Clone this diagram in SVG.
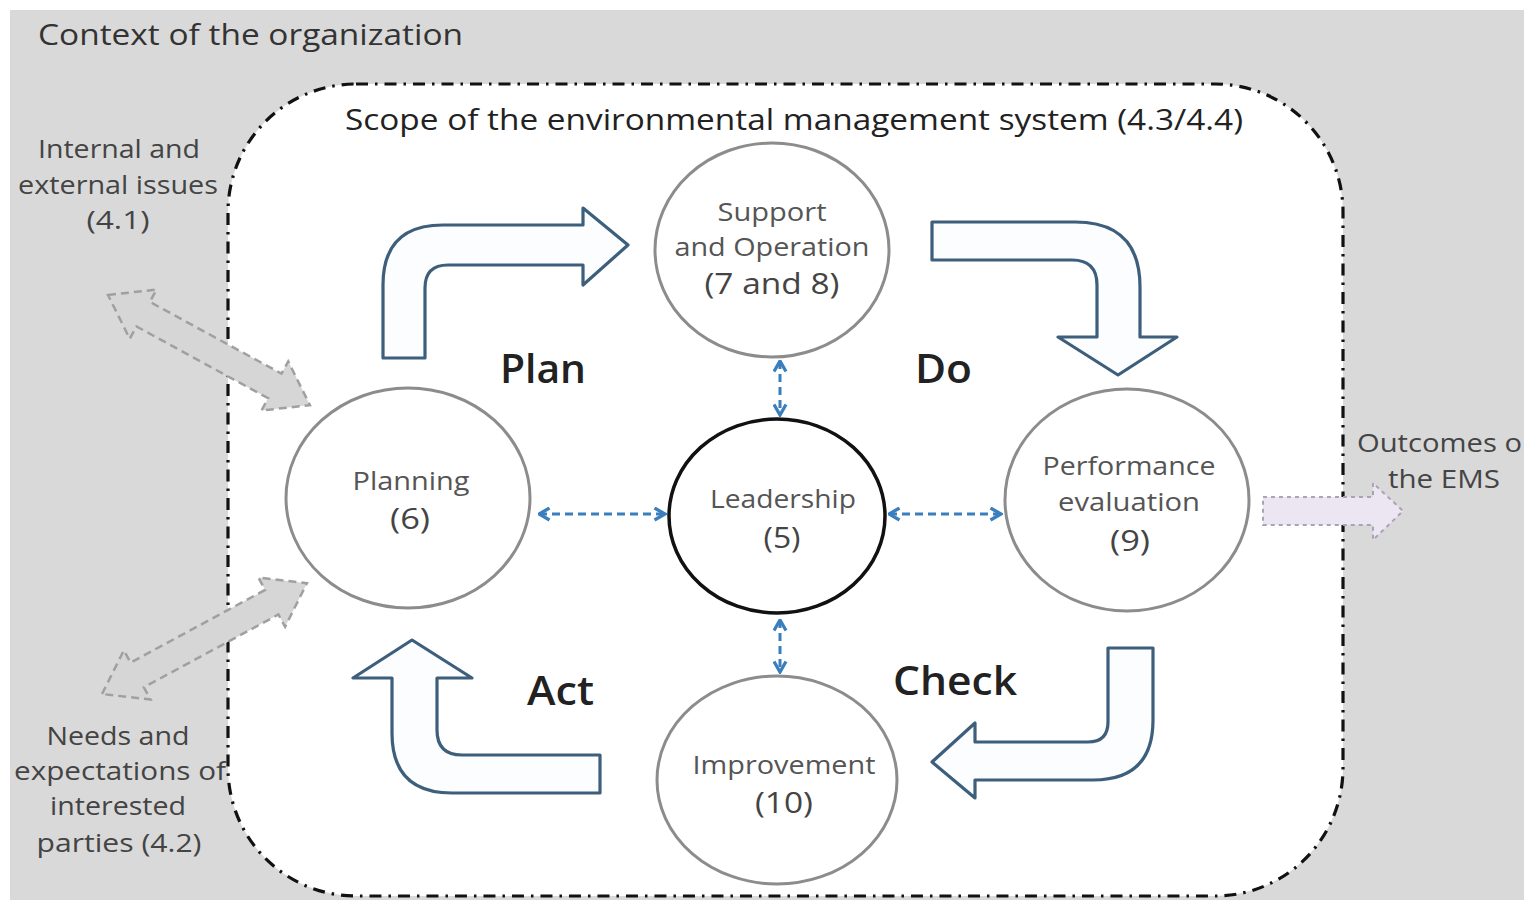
<svg xmlns="http://www.w3.org/2000/svg" width="1527" height="912" viewBox="0 0 1527 912">
<defs>
<style>
text{font-family:"Open Sans","Noto Sans",sans-serif;font-weight:500;}
.title{font-size:29px;fill:#333;}
.side{font-size:25px;fill:#444;text-anchor:middle;}
.node{fill:#fff;stroke:#8c8c8c;stroke-width:3;}
.lead{fill:#fff;stroke:#111;stroke-width:3.5;}
.nt{font-size:26px;fill:#555;text-anchor:middle;}
.nn{font-size:30px;fill:#444;text-anchor:middle;}
.pdca{font-size:39px;fill:#222;font-weight:600;}
.block{fill:#fbfdff;stroke:#3d5f7c;stroke-width:3.2;stroke-linejoin:round;}
.gray{fill:#d6d6d6;stroke:#a0a0a0;stroke-width:2.5;stroke-dasharray:8 5;}
.link{fill:none;stroke:#3a7fbd;stroke-width:3;stroke-dasharray:8 5;marker-start:url(#chev);marker-end:url(#chev);}
</style>
<marker id="chev" viewBox="0 0 10 10" refX="9" refY="5" markerWidth="5" markerHeight="5" orient="auto-start-reverse" markerUnits="strokeWidth">
<path d="M2,1 L9,5 L2,9" fill="none" stroke="#3a7fbd" stroke-width="2.2"/>
</marker>
</defs>
<rect x="0" y="0" width="1527" height="912" fill="#fff"/>
<rect x="10" y="10" width="1514" height="890" fill="#d9d9d9"/>
<g id="scope">
<rect x="228" y="84" width="1115" height="812" rx="128" ry="128" fill="#fff" stroke="#111" stroke-width="3.2" stroke-dasharray="12 7 2.5 7"/>
</g>
<text class="title" x="38" y="45" textLength="425" lengthAdjust="spacingAndGlyphs">Context of the organization</text>
<text class="title" x="345" y="130" style="font-size:30px;fill:#222" textLength="898" lengthAdjust="spacingAndGlyphs">Scope of the environmental management system (4.3/4.4)</text>
<g id="issues">
<text class="side" x="119" y="158" textLength="162" lengthAdjust="spacingAndGlyphs">Internal and</text>
<text class="side" x="118" y="194" textLength="200" lengthAdjust="spacingAndGlyphs">external issues</text>
<text class="side" x="118" y="229" textLength="63" lengthAdjust="spacingAndGlyphs">(4.1)</text>
</g>
<g id="needs">
<text class="side" x="118" y="745" textLength="143" lengthAdjust="spacingAndGlyphs">Needs and</text>
<text class="side" x="120" y="780" textLength="212" lengthAdjust="spacingAndGlyphs">expectations of</text>
<text class="side" x="118" y="815" textLength="136" lengthAdjust="spacingAndGlyphs">interested</text>
<text class="side" x="119" y="852" textLength="165" lengthAdjust="spacingAndGlyphs">parties (4.2)</text>
</g>
<g id="outcomes">
<text class="side" x="1357" y="452" style="text-anchor:start" textLength="165" lengthAdjust="spacingAndGlyphs">Outcomes o</text>
<text class="side" x="1444" y="488" textLength="112" lengthAdjust="spacingAndGlyphs">the EMS</text>
</g>
<g id="connectors">
<path class="gray" transform="translate(108,295) rotate(28.6)" d="M0,0 L40,-28 L40,-14 L190,-14 L190,-28 L230,0 L190,28 L190,14 L40,14 L40,28 Z"/>
<path class="gray" transform="translate(102,694) rotate(-28.4)" d="M0,0 L40,-28 L40,-14 L193,-14 L193,-28 L233,0 L193,28 L193,14 L40,14 L40,28 Z"/>
<path d="M1263,497 L1373,497 L1373,483 L1403,511 L1373,540 L1373,525 L1263,525 Z" fill="#ebe6f2" stroke="#a9a3b5" stroke-width="2" stroke-dasharray="4 4"/>
<path class="block" d="M383,358 L383,285 Q383,225 443,225 L583,225 L583,208 L628,245 L583,285 L583,265 L448,265 Q425,265 425,288 L425,358 Z"/>
<path class="block" d="M932,222 L1075,222 Q1140,222 1140,287 L1140,337 L1177,337 L1118,375 L1058,337 L1097,337 L1097,285 Q1097,260 1072,260 L932,260 Z"/>
<path class="block" d="M1108,648 L1153,648 L1153,720 Q1153,780 1093,780 L975,780 L975,798 L932,762 L975,723 L975,742 L1088,742 Q1108,742 1108,722 Z"/>
<path class="block" d="M600,755 L462,755 Q437,755 437,730 L437,678 L472,678 L412,640 L353,678 L392,678 L392,733 Q392,793 452,793 L600,793 Z"/>
<line class="link" x1="539" y1="514" x2="665" y2="514"/>
<line class="link" x1="889" y1="514" x2="1001" y2="514"/>
<line class="link" x1="780" y1="361" x2="780" y2="415"/>
<line class="link" x1="780" y1="620" x2="780" y2="672"/>
</g>
<g id="support">
<ellipse class="node" cx="772" cy="250" rx="117" ry="107"/>
<text class="nt" x="772" y="221" textLength="109" lengthAdjust="spacingAndGlyphs">Support</text>
<text class="nt" x="772" y="256" textLength="195" lengthAdjust="spacingAndGlyphs">and Operation</text>
<text class="nn" x="772" y="294" textLength="135" lengthAdjust="spacingAndGlyphs">(7 and 8)</text>
</g>
<g id="planning">
<ellipse class="node" cx="408" cy="498" rx="122" ry="110"/>
<text class="nt" x="411" y="490" textLength="117" lengthAdjust="spacingAndGlyphs">Planning</text>
<text class="nn" x="410" y="529" textLength="40" lengthAdjust="spacingAndGlyphs">(6)</text>
</g>
<g id="leadership">
<ellipse class="lead" cx="777" cy="516" rx="108" ry="97"/>
<text class="nt" x="783" y="508" textLength="146" lengthAdjust="spacingAndGlyphs">Leadership</text>
<text class="nn" x="782" y="548" textLength="37" lengthAdjust="spacingAndGlyphs">(5)</text>
</g>
<g id="performance">
<ellipse class="node" cx="1127" cy="500" rx="122" ry="111"/>
<text class="nt" x="1129" y="475" textLength="173" lengthAdjust="spacingAndGlyphs">Performance</text>
<text class="nt" x="1129" y="511" textLength="142" lengthAdjust="spacingAndGlyphs">evaluation</text>
<text class="nn" x="1130" y="551" textLength="40" lengthAdjust="spacingAndGlyphs">(9)</text>
</g>
<g id="improvement">
<ellipse class="node" cx="777" cy="780" rx="120" ry="104"/>
<text class="nt" x="784" y="774" textLength="183" lengthAdjust="spacingAndGlyphs">Improvement</text>
<text class="nn" x="784" y="813" textLength="58" lengthAdjust="spacingAndGlyphs">(10)</text>
</g>
<g id="pdca">
<text class="pdca" x="500" y="383" textLength="86" lengthAdjust="spacingAndGlyphs">Plan</text>
<text class="pdca" x="915" y="383" textLength="57" lengthAdjust="spacingAndGlyphs">Do</text>
<text class="pdca" x="527" y="705" textLength="67" lengthAdjust="spacingAndGlyphs">Act</text>
<text class="pdca" x="893" y="695" textLength="124" lengthAdjust="spacingAndGlyphs">Check</text>
</g>
</svg>
